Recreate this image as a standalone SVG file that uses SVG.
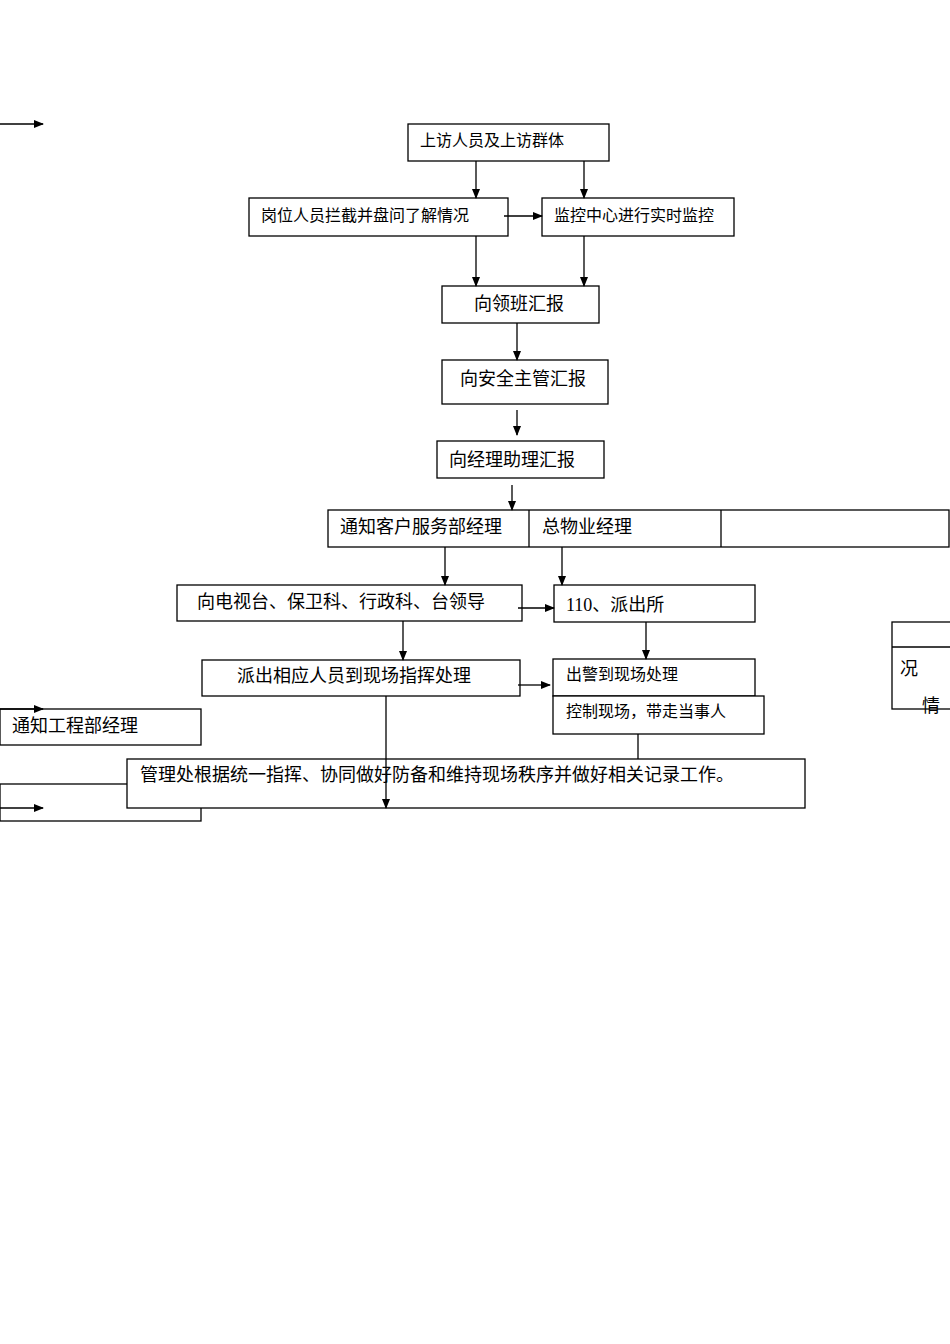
<svg xmlns="http://www.w3.org/2000/svg" width="950" height="1344" viewBox="0 0 950 1344">
<style>
rect{fill:#fff;stroke:#000;stroke-width:1.3}
text{font-family:"Liberation Serif","Noto Sans CJK SC",serif;fill:#000}
.s{font-size:16px}.m{font-size:18px}
#connectors line,#connectors polyline{stroke:#000;stroke-width:1.3;fill:none}
</style>
<defs><marker id="a" markerWidth="10" markerHeight="8" refX="9" refY="4" orient="auto" markerUnits="userSpaceOnUse"><path d="M0,0L10,4L0,8z" fill="#000"/></marker></defs>
<rect width="950" height="1344" style="fill:#fff;stroke:none"/>
<g id="n1"><rect x="408" y="124" width="201" height="37"/><text class="s" x="420" y="146">上访人员及上访群体</text></g>
<g id="n2"><rect x="249" y="198" width="259" height="38"/><text class="s" x="261" y="221">岗位人员拦截并盘问了解情况</text></g>
<g id="n3"><rect x="542" y="198" width="192" height="38"/><text class="s" x="554" y="221">监控中心进行实时监控</text></g>
<g id="n4"><rect x="442" y="286" width="157" height="37"/><text class="m" x="474" y="310">向领班汇报</text></g>
<g id="n5"><rect x="442" y="360" width="166" height="44"/><text class="m" x="460" y="385">向安全主管汇报</text></g>
<g id="n6"><rect x="437" y="441" width="167" height="37"/><text class="m" x="449" y="466">向经理助理汇报</text></g>
<g id="n7"><rect x="328" y="510" width="621" height="37"/><line x1="529" y1="510" x2="529" y2="547" stroke="#000" stroke-width="1.3"/><line x1="721" y1="510" x2="721" y2="547" stroke="#000" stroke-width="1.3"/><text class="m" x="340" y="533">通知客户服务部经理</text><text class="m" x="542" y="533">总物业经理</text></g>
<g id="n8"><rect x="177" y="585" width="345" height="36"/><text class="m" x="197" y="608">向电视台、保卫科、行政科、台领导</text></g>
<g id="n9"><rect x="554" y="585" width="201" height="37"/><text class="m" x="566" y="611">110、派出所</text></g>
<g id="n10"><rect x="202" y="660" width="318" height="36"/><text class="m" x="237" y="682">派出相应人员到现场指挥处理</text></g>
<g id="n11"><rect x="553" y="659" width="202" height="37"/><text class="s" x="566" y="680">出警到现场处理</text></g>
<g id="n12"><rect x="553" y="696" width="211" height="38"/><text class="s" x="566" y="717">控制现场，带走当事人</text></g>
<g id="n13"><rect x="892" y="622" width="62" height="87"/><line x1="892" y1="647" x2="950" y2="647" stroke="#000" stroke-width="1.3"/><text class="m" x="900" y="675">况</text><text class="m" x="922" y="712">情</text></g>
<g id="n14"><rect x="0" y="709" width="201" height="36"/><text class="m" x="12" y="732">通知工程部经理</text></g>
<g id="n15"><rect x="0" y="784" width="201" height="37"/></g>
<g id="n16"><rect x="127" y="759" width="678" height="49"/><text class="m" x="140" y="781">管理处根据统一指挥、协同做好防备和维持现场秩序并做好相关记录工作。</text></g>
<g id="connectors">
<line x1="0" y1="124" x2="43" y2="124" marker-end="url(#a)"/>
<line x1="476" y1="161" x2="476" y2="198" marker-end="url(#a)"/>
<line x1="584" y1="161" x2="584" y2="198" marker-end="url(#a)"/>
<line x1="504" y1="216" x2="542" y2="216" marker-end="url(#a)"/>
<line x1="476" y1="236" x2="476" y2="286" marker-end="url(#a)"/>
<line x1="584" y1="236" x2="584" y2="286" marker-end="url(#a)"/>
<line x1="517" y1="323" x2="517" y2="360" marker-end="url(#a)"/>
<line x1="517" y1="410" x2="517" y2="435" marker-end="url(#a)"/>
<line x1="512" y1="485" x2="512" y2="510" marker-end="url(#a)"/>
<line x1="445" y1="547" x2="445" y2="585" marker-end="url(#a)"/>
<line x1="562" y1="547" x2="562" y2="585" marker-end="url(#a)"/>
<line x1="518" y1="608" x2="554" y2="608" marker-end="url(#a)"/>
<line x1="403" y1="621" x2="403" y2="660" marker-end="url(#a)"/>
<line x1="646" y1="622" x2="646" y2="659" marker-end="url(#a)"/>
<line x1="518" y1="685" x2="550" y2="685" marker-end="url(#a)"/>
<line x1="386" y1="696" x2="386" y2="808" marker-end="url(#a)"/>
<line x1="638" y1="734" x2="638" y2="759"/>
<line x1="0" y1="709" x2="43" y2="709" marker-end="url(#a)"/>
<line x1="0" y1="808" x2="43" y2="808" marker-end="url(#a)"/>
</g>
</svg>
